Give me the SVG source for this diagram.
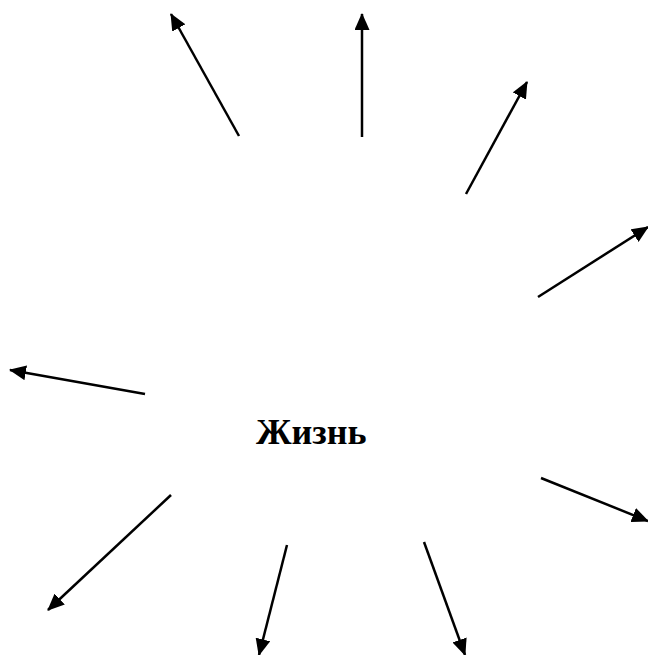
<svg xmlns="http://www.w3.org/2000/svg" width="648" height="655" viewBox="0 0 648 655">
<style>
.c{stroke:#000;stroke-width:2.5;fill:none;marker-end:url(#ah)}
.t{font-family:"Liberation Serif","Times New Roman",serif;font-weight:bold;font-size:36px;fill:#000}
</style>
<defs>
<marker id="ah" markerUnits="userSpaceOnUse" markerWidth="17" markerHeight="15" refX="16" refY="7.5" orient="auto" viewBox="0 0 17 15">
<path d="M0,0 L17,7.5 L0,15 Z" fill="#000"/>
</marker>
</defs>
<rect width="648" height="655" fill="#fff"/>
<g id="connectors">
<line class="c" x1="239" y1="136" x2="171" y2="14"/>
<line class="c" x1="362" y1="137" x2="362" y2="14"/>
<line class="c" x1="466" y1="194" x2="527" y2="82"/>
<line class="c" x1="538" y1="297" x2="648" y2="227"/>
<line class="c" x1="145" y1="394" x2="10" y2="370"/>
<line class="c" x1="541" y1="478" x2="648" y2="521"/>
<line class="c" x1="171" y1="495" x2="48" y2="610"/>
<line class="c" x1="287" y1="545" x2="259" y2="655"/>
<line class="c" x1="424" y1="542" x2="465" y2="655"/>
</g>
<g id="center">
<text class="t" x="256" y="444">Жизнь</text>
</g>
</svg>
